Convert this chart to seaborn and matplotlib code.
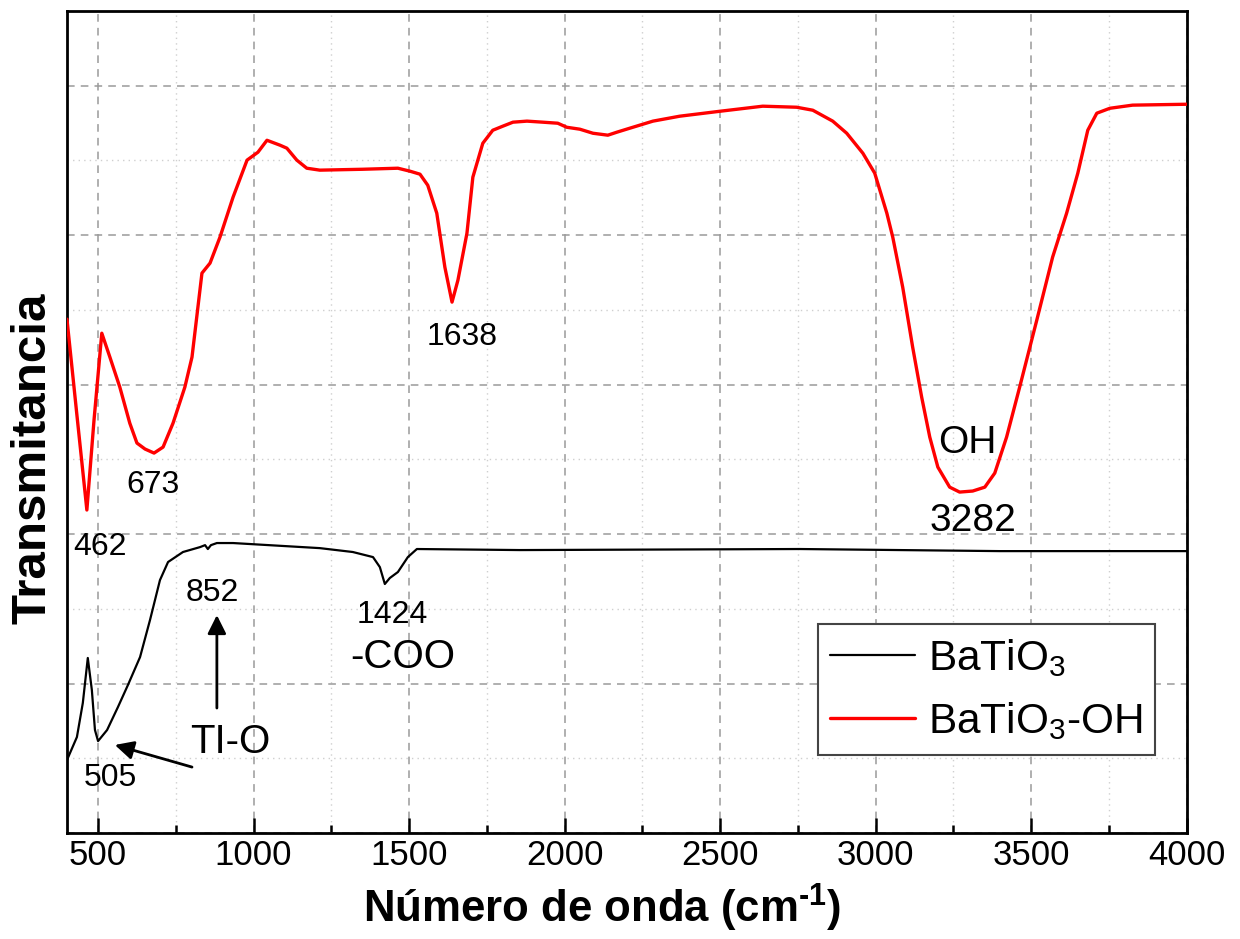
import numpy as np
import pandas as pd
import matplotlib
matplotlib.use("Agg")
import matplotlib.pyplot as plt
from matplotlib.ticker import MultipleLocator, NullFormatter
import seaborn as sns

# ---------------- data ----------------
wn_red = [400, 432, 464, 487, 512, 538, 570, 602, 625, 651, 680, 709, 741, 779, 802,
          834, 860, 892, 934, 979, 1014, 1043, 1085, 1107, 1139, 1171, 1213, 1351, 1464,
          1503, 1535, 1560, 1589, 1615, 1638, 1657, 1686, 1705, 1737, 1769, 1801, 1834,
          1879, 1930, 1978, 2007, 2049, 2091, 2139, 2168, 2210, 2284, 2370, 2499, 2637,
          2746, 2798, 2862, 2907, 2959, 2997, 3036, 3055, 3087, 3119, 3148, 3174, 3200,
          3238, 3270, 3312, 3351, 3383, 3421, 3463, 3518, 3569, 3614, 3650, 3682, 3711,
          3753, 3826, 4000]
t_red = [3.438, 2.796, 2.161, 2.763, 3.344, 3.184, 2.983, 2.742, 2.609, 2.569, 2.542,
         2.582, 2.742, 2.983, 3.184, 3.746, 3.813, 3.987, 4.254, 4.502, 4.555, 4.635,
         4.602, 4.582, 4.502, 4.448, 4.435, 4.441, 4.448, 4.428, 4.408, 4.334, 4.147,
         3.786, 3.552, 3.699, 4.013, 4.388, 4.615, 4.702, 4.729, 4.756, 4.763, 4.756,
         4.749, 4.722, 4.709, 4.682, 4.669, 4.689, 4.716, 4.763, 4.796, 4.829, 4.863,
         4.856, 4.836, 4.763, 4.682, 4.548, 4.415, 4.147, 3.987, 3.652, 3.251, 2.916,
         2.649, 2.448, 2.314, 2.281, 2.288, 2.314, 2.408, 2.649, 2.983, 3.431, 3.853,
         4.147, 4.415, 4.702, 4.816, 4.849, 4.870, 4.876]

wn_black = [400, 432, 451, 467, 480, 490, 500, 529, 564, 596, 635, 667, 699, 725, 773,
            828, 844, 853, 863, 882, 934, 1213, 1319, 1384, 1406, 1422, 1438, 1464,
            1496, 1525, 1856, 2756, 3399, 4000]
t_black = [0.488, 0.642, 0.870, 1.171, 0.957, 0.689, 0.615, 0.689, 0.843, 0.990, 1.177,
           1.425, 1.692, 1.813, 1.880, 1.913, 1.926, 1.900, 1.926, 1.940, 1.940, 1.906,
           1.880, 1.846, 1.779, 1.666, 1.706, 1.746, 1.846, 1.900, 1.893, 1.900, 1.886,
           1.886]

series_names = ["BaTiO$_3$", "BaTiO$_3$-OH"]
series_colors = ["black", "red"]

# peak annotations: text, x, y, size
ann_text = ["462", "673", "1638", "OH", "3282", "852", "1424", "-COO", "TI-O", "505"]
ann_x = [506, 676, 1670, 3296, 3312, 866, 1445, 1480, 924, 538]
ann_y = [1.913, 2.328, 3.318, 2.609, 2.090, 1.605, 1.458, 1.177, 0.609, 0.368]
ann_size = [23, 23, 23, 28, 28, 23, 23, 29, 29, 23]

# arrows (tail -> head)
arrow_tail_x = [882, 802]
arrow_tail_y = [0.836, 0.441]
arrow_head_x = [882, 554]
arrow_head_y = [1.458, 0.589]

# ---------------- style ----------------
sns.set_style("white")
plt.rcParams["font.family"] = ["Liberation Sans", "DejaVu Sans"]
plt.rcParams["mathtext.fontset"] = "custom"
plt.rcParams["mathtext.rm"] = "Liberation Sans"
plt.rcParams["mathtext.it"] = "Liberation Sans:italic"
plt.rcParams["mathtext.bf"] = "Liberation Sans:bold"
plt.rcParams["mathtext.default"] = "regular"
plt.rcParams["text.color"] = "black"
plt.rcParams["axes.labelcolor"] = "black"
plt.rcParams["xtick.color"] = "black"
plt.rcParams["ytick.color"] = "black"

df_black = pd.DataFrame({"wn": wn_black, "T": t_black, "serie": series_names[0]})
df_red = pd.DataFrame({"wn": wn_red, "T": t_red, "serie": series_names[1]})

fig = plt.figure(figsize=(12.4, 9.39), dpi=100)
ax = fig.add_axes([0.054, 0.1129, 0.903, 0.8754])

sns.lineplot(data=df_black, x="wn", y="T", color=series_colors[0], lw=1.6,
             label=series_names[0], ax=ax, zorder=3)
sns.lineplot(data=df_red, x="wn", y="T", color=series_colors[1], lw=2.4,
             label=series_names[1], ax=ax, zorder=3)

ax.set_xlim(400, 4000)
ax.set_ylim(0, 5.5)

ax.xaxis.set_major_locator(MultipleLocator(500))
ax.xaxis.set_minor_locator(MultipleLocator(250))
ax.yaxis.set_major_locator(MultipleLocator(1))
ax.yaxis.set_minor_locator(MultipleLocator(0.5))
ax.yaxis.set_major_formatter(NullFormatter())

ax.grid(which="major", color="#9a9a9a", linestyle=(0, (5, 4)), linewidth=1.1, zorder=0)
ax.grid(which="minor", color="#cfcfcf", linestyle=(0, (1, 3)), linewidth=1.0, zorder=0)
ax.set_axisbelow(True)

ax.tick_params(axis="x", which="major", direction="in", length=11, width=1.8,
               labelsize=25, pad=4, bottom=True, top=False, colors="black")
ax.tick_params(axis="x", which="minor", direction="in", length=5.5, width=1.8,
               bottom=True, top=False)
ax.tick_params(axis="y", which="both", left=False, right=False, labelleft=False)

for sp in ax.spines.values():
    sp.set_visible(True)
    sp.set_color("black")
    sp.set_linewidth(2.0)

ax.set_xlabel("Número de onda (cm$^{\\mathbf{\u20101}}$)", fontsize=31.5,
              fontweight="bold", color="black")
ax.set_ylabel("Transmitancia", fontsize=35.5, fontweight="bold", color="black")
ax.xaxis.set_label_coords(0.478, -0.060)
ax.yaxis.set_label_coords(-0.010, 0.456)

for t, x, y, s in zip(ann_text, ann_x, ann_y, ann_size):
    ax.text(x, y, t, fontsize=s, ha="center", va="center", color="black", zorder=4)

for tx, ty, hx, hy in zip(arrow_tail_x, arrow_tail_y, arrow_head_x, arrow_head_y):
    ax.annotate("", xy=(hx, hy), xytext=(tx, ty),
                arrowprops=dict(arrowstyle="-|>", color="black", lw=2.0,
                                mutation_scale=28, shrinkA=0, shrinkB=0))

leg = ax.legend(loc="upper left", bbox_to_anchor=(0.6705, 0.254), fontsize=30.5,
                frameon=True, fancybox=False, framealpha=1, edgecolor="#444444",
                handlelength=2.0, handletextpad=0.3, labelspacing=0.5,
                borderpad=0.3, borderaxespad=0)
leg.get_frame().set_linewidth(1.5)
for txt in leg.get_texts():
    txt.set_color("black")

fig.savefig("out.png", dpi=100)
